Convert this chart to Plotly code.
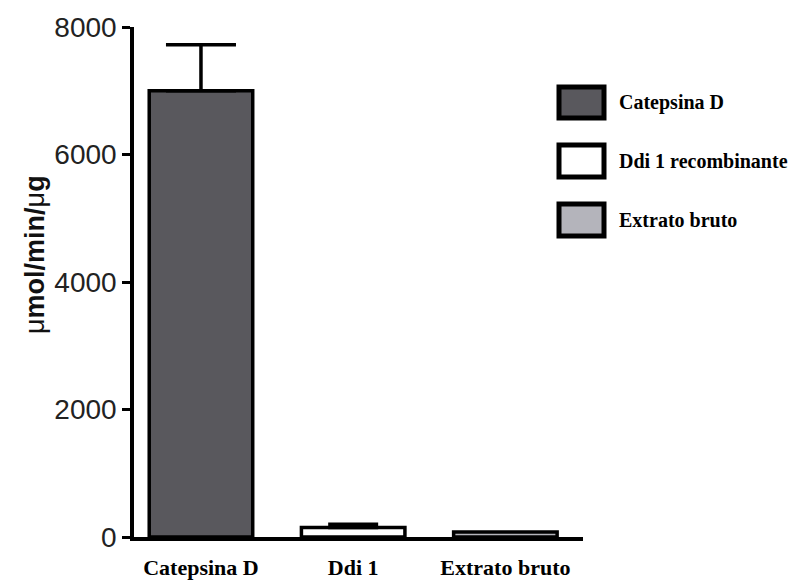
import plotly.graph_objects as go

categories = ["Catepsina D", "Ddi 1", "Extrato bruto"]
legend_labels = ["Catepsina D", "Ddi 1 recombinante", "Extrato bruto"]
means = [7000, 150, 80]
err_plus = [720, 50, 0]
y_ticks = [0, 2000, 4000, 6000, 8000]

fills = ["#59585d", "#ffffff", "#b4b4bb"]
cap_half = [35, 25, 0]

OFF = 8  # page body margin
W, H = 798 - OFF, 588 - OFF
pw, ph = 449, 510
L, T = 134 - OFF, 27 - OFF
R, B = W - L - pw, H - T - ph

def px_x(px):
    return (px - OFF - L) / pw

def px_y(py):
    return (T + ph - (py - OFF)) / ph

fig = go.Figure()
for i, c in enumerate(categories):
    fig.add_trace(go.Bar(
        x=[i], y=[means[i]], width=0.68,
        marker=dict(color=fills[i], line=dict(color="black", width=3.5)),
        error_y=dict(type="data", symmetric=False, array=[err_plus[i]], arrayminus=[0],
                     color="black", thickness=3.5, width=cap_half[i],
                     visible=err_plus[i] > 0),
        showlegend=False, name=c,
    ))

shapes = []
annotations = []
leg_boxes = [(87, 118), (145, 177), (204, 236)]
for i, lab in enumerate(legend_labels):
    y0, y1 = leg_boxes[i]
    shapes.append(dict(type="rect", xref="paper", yref="paper",
                       x0=px_x(559), x1=px_x(604), y0=px_y(y1), y1=px_y(y0),
                       fillcolor=fills[i], line=dict(color="black", width=5)))
    annotations.append(dict(xref="paper", yref="paper", x=px_x(617), y=px_y((y0 + y1) / 2),
                            xanchor="left", yanchor="middle", showarrow=False,
                            text="<b>" + lab + "</b>",
                            font=dict(family="Liberation Serif", size=20, color="black")))

annotations.append(dict(xref="paper", yref="paper", x=px_x(35), y=px_y(255),
                        xanchor="center", yanchor="middle", showarrow=False, textangle=-90,
                        text="<span style='font-weight:normal'>μ</span><b>mol/min/</b>μ<b>g</b>",
                        font=dict(family="Liberation Sans", size=27, color="#111111")))

fig.update_layout(
    width=W, height=H, autosize=False,
    margin=dict(l=L, r=R, t=T, b=B, pad=0, autoexpand=False),
    plot_bgcolor="white", paper_bgcolor="white",
    barmode="overlay",
    shapes=shapes, annotations=annotations,
    xaxis=dict(range=[-0.44, 2.51], tickmode="array", tickvals=[0, 1, 2], ticktext=categories,
               showline=True, linecolor="black", linewidth=3.5, ticks="",
               showgrid=False, zeroline=False, ticklabelstandoff=8, automargin=False,
               tickfont=dict(family="Liberation Serif", size=22, color="black", weight="bold")),
    yaxis=dict(range=[0, 8000], tickmode="array", tickvals=y_ticks,
               ticktext=[str(v) for v in y_ticks], automargin=False,
               showline=True, linecolor="black", linewidth=3.5, ticks="outside",
               ticklen=8, tickwidth=3, tickcolor="black",
               showgrid=False, zeroline=False,
               tickfont=dict(family="Liberation Sans", size=28, color="#222222")),
)

fig.write_html("out.html")
